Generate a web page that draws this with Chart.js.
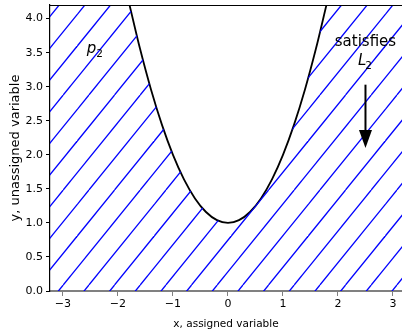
<!DOCTYPE html>
<html>
<head>
<meta charset="utf-8">
<script src="https://cdn.jsdelivr.net/npm/chart.js@4"></script>
<style>
  html, body { margin: 0; padding: 0; background: #fff; }
  #wrap { width: 402px; height: 336px; }
</style>
</head>
<body>
<div id="wrap"><canvas id="chart"></canvas></div>
<script>
// boundary curve
const curveX = [-1.79, -1.6, -1.4, -1.2, -1.0, -0.8, -0.6, -0.4, -0.2, 0, 0.2, 0.4, 0.6, 0.8, 1.0, 1.2, 1.4, 1.6, 1.79];
const curveY = [4.2, 3.56, 2.96, 2.44, 2.0, 1.64, 1.36, 1.16, 1.04, 1.0, 1.04, 1.16, 1.36, 1.64, 2.0, 2.44, 2.96, 3.56, 4.2];
// hatched region goes to the left/right edges along the top
const edgeX = [-3.3, 3.3];
const edgeY = [4.2, 4.2];

const xTicks = [-3, -2, -1, 0, 1, 2, 3];
const yTicks = [0, 0.5, 1.0, 1.5, 2.0, 2.5, 3.0, 3.5, 4.0];

const pLabel = { x: -2.42, y: 3.52 };
const satLabel = { x: 2.5, y: 3.66 };
const lLabel = { x: 2.5, y: 3.34 };
const arrowFrom = { x: 2.5, y: 3.03 };
const arrowTo = { x: 2.5, y: 2.1 };

const curvePts = curveX.map((x, i) => ({ x: x, y: curveY[i] }));
const hatchPts = [{ x: edgeX[0], y: edgeY[0] }].concat(curvePts, [{ x: edgeX[1], y: edgeY[1] }]);

// diagonal hatch pattern
function makeHatch() {
  const c = document.createElement('canvas');
  c.width = 77; c.height = 95;
  const g = c.getContext('2d');
  g.strokeStyle = '#0000ff';
  g.lineWidth = 1.3;
  for (let k = -2; k < 10; k++) {
    const x0 = 11.9 + k * 77 / 3;
    g.beginPath();
    g.moveTo(x0, 0);
    g.lineTo(x0 - 77, 95);
    g.stroke();
  }
  return g.createPattern(c, 'repeat');
}

const extras = {
  id: 'extras',
  afterDatasetsDraw(chart) {
    const ctx = chart.ctx;
    const xs = chart.scales.x, ys = chart.scales.y;
    const a = chart.chartArea;
    ctx.save();
    // top spine
    ctx.strokeStyle = '#000';
    ctx.lineWidth = 1.2;
    ctx.beginPath();
    ctx.moveTo(a.left, a.top + 0.5);
    ctx.lineTo(a.right, a.top + 0.5);
    ctx.stroke();

    ctx.fillStyle = '#000';
    ctx.textBaseline = 'middle';
    // p_2
    let px = xs.getPixelForValue(pLabel.x), py = ys.getPixelForValue(pLabel.y);
    ctx.font = 'italic 15px "DejaVu Sans"';
    const pw = ctx.measureText('p').width;
    ctx.font = '10.5px "DejaVu Sans"';
    const sw = ctx.measureText('2').width;
    let left = px - (pw + sw) / 2;
    ctx.textAlign = 'left';
    ctx.font = 'italic 15px "DejaVu Sans"';
    ctx.fillText('p', left, py - 2);
    ctx.font = '10.5px "DejaVu Sans"';
    ctx.fillText('2', left + pw, py + 3);

    // satisfies L_2
    ctx.textAlign = 'center';
    ctx.font = '15px "DejaVu Sans"';
    ctx.fillText('satisfies', xs.getPixelForValue(satLabel.x), ys.getPixelForValue(satLabel.y));
    px = xs.getPixelForValue(lLabel.x); py = ys.getPixelForValue(lLabel.y);
    ctx.font = 'italic 15px "DejaVu Sans"';
    const lw = ctx.measureText('L').width;
    left = px - (lw + sw) / 2;
    ctx.textAlign = 'left';
    ctx.fillText('L', left, py - 2);
    ctx.font = '10.5px "DejaVu Sans"';
    ctx.fillText('2', left + lw - 1, py + 3);

    // arrow
    const ax = xs.getPixelForValue(arrowFrom.x);
    const ay0 = ys.getPixelForValue(arrowFrom.y);
    const ay1 = ys.getPixelForValue(arrowTo.y);
    ctx.strokeStyle = '#000';
    ctx.lineWidth = 2;
    ctx.beginPath();
    ctx.moveTo(ax, ay0);
    ctx.lineTo(ax, ay1 - 16);
    ctx.stroke();
    ctx.beginPath();
    ctx.moveTo(ax - 6.5, ay1 - 18);
    ctx.lineTo(ax + 6.5, ay1 - 18);
    ctx.lineTo(ax, ay1);
    ctx.closePath();
    ctx.fill();
    ctx.restore();
  }
};

const tickFont = { family: '"DejaVu Sans"', size: 11 };

new Chart(document.getElementById('chart'), {
  type: 'line',
  data: {
    datasets: [{
      data: hatchPts,
      borderColor: 'rgba(0,0,0,0)',
      borderWidth: 0,
      backgroundColor: makeHatch(),
      fill: 'start',
      pointRadius: 0,
      tension: 0
    }, {
      data: curvePts,
      borderColor: '#000',
      borderWidth: 1.8,
      fill: false,
      pointRadius: 0,
      cubicInterpolationMode: 'monotone'
    }]
  },
  plugins: [extras],
  options: {
    responsive: true,
    maintainAspectRatio: false,
    animation: false,
    layout: { padding: { top: 5, right: 0, left: 0, bottom: 0 } },
    plugins: { legend: { display: false }, tooltip: { enabled: false } },
    scales: {
      x: {
        type: 'linear',
        min: -3.236,
        max: 3.164,
        afterBuildTicks: s => { s.ticks = xTicks.map(v => ({ value: v })); },
        afterFit: s => { s.height = 45; s.paddingLeft = 0; s.paddingRight = 0; },
        ticks: {
          font: tickFont,
          color: '#000',
          padding: 2,
          maxRotation: 0,
          callback: v => String(v).replace('-', '\u2212')
        },
        grid: { drawOnChartArea: false, drawTicks: true, tickLength: 5, tickColor: '#808080', tickWidth: 1 },
        border: { color: '#808080', width: 2 },
        title: {
          display: true,
          text: 'x, assigned variable',
          font: { family: '"DejaVu Sans"', size: 10.5 },
          color: '#000',
          padding: { top: 0, bottom: 5 }
        }
      },
      y: {
        min: 0,
        max: 4.2,
        afterBuildTicks: s => { s.ticks = yTicks.map(v => ({ value: v })); },
        afterFit: s => { s.width = 50; s.paddingTop = 0; s.paddingBottom = 0; },
        ticks: {
          font: tickFont,
          color: '#000',
          padding: 3,
          callback: v => v.toFixed(1)
        },
        grid: { drawOnChartArea: false, drawTicks: true, tickLength: 4, tickColor: '#000', tickWidth: 1 },
        border: { color: '#000', width: 1.2 },
        title: {
          display: true,
          text: 'y, unassigned variable',
          font: { family: '"DejaVu Sans"', size: 13 },
          color: '#000',
          padding: { top: 8, bottom: 0 }
        }
      }
    }
  }
});
</script>
</body>
</html>
